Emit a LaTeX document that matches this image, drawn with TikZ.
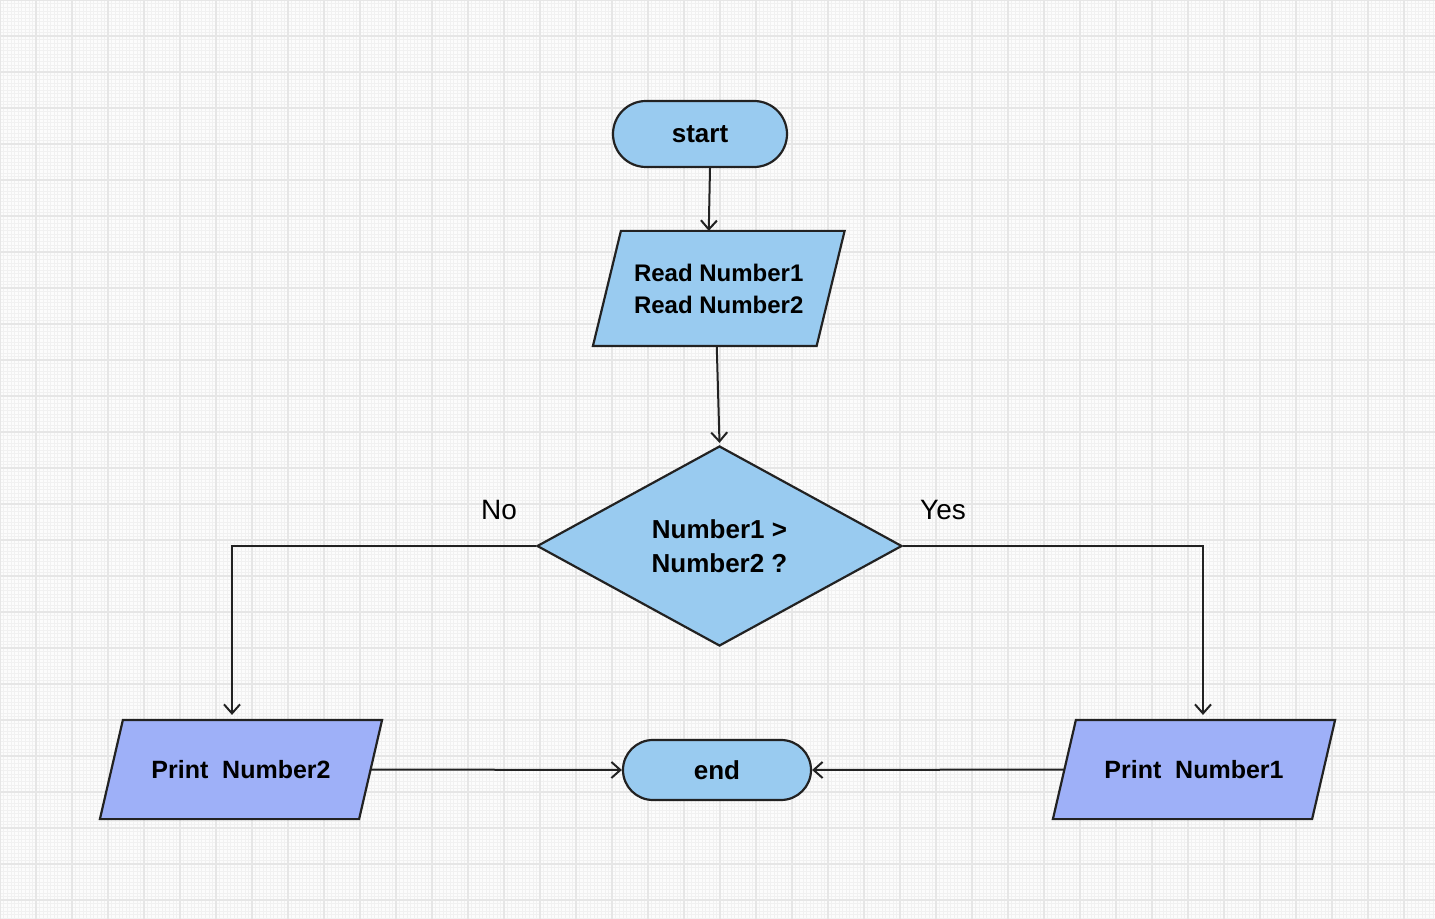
\documentclass[tikz,border=0pt]{standalone}
\usepackage{fontspec}
\setmainfont{Liberation Sans}
\usetikzlibrary{shapes.geometric,shapes.misc,arrows.meta,calc,backgrounds}
\definecolor{bgc}{HTML}{FCFCFC}
\definecolor{minorc}{HTML}{F1F1F1}
\definecolor{majorc}{HTML}{E6E6E6}
\definecolor{blueA}{HTML}{99CBF0}
\definecolor{blueB}{HTML}{9EB0F8}
\definecolor{ink}{HTML}{222222}
\tikzset{
  base/.style={draw=ink, line width=1.1pt, font=\bfseries\fontsize{12}{16}\selectfont, text=black, inner sep=0pt, align=center},
  term/.style={base, rounded rectangle, fill=blueA, font=\bfseries\fontsize{13}{16}\selectfont},
  iobox/.style={base, draw=none, rectangle},
  ioshape/.style={draw=ink, line width=1.1pt, line join=miter},
  decision/.style={base, diamond, fill=blueA, font=\bfseries\fontsize{13}{16}\selectfont},
  lbl/.style={font=\fontsize{14}{17}\selectfont, text=black, inner sep=0pt},
  arr/.style={draw=ink, line width=1pt, -{Straight Barb[length=4.5pt,width=8pt,line width=1pt]}},
  minorline/.style={draw=minorc, line width=0.2pt},
  majorline/.style={draw=majorc, line width=0.8pt}
}
\newcommand\drawpar[3]{%
  \draw[ioshape, fill=#2] ($(#1.north west)+(#3,0)$) -- ($(#1.north east)+(#3,0)$)
    -- ($(#1.south east)+(-#3,0)$) -- ($(#1.south west)+(-#3,0)$) -- cycle;}
\begin{document}
\begin{tikzpicture}[x=0.5pt,y=-0.5pt]
\useasboundingbox (0,0) rectangle (1435,919);
\begin{scope}[on background layer]
\fill[bgc] (0,0) rectangle (1435,919);
\foreach \x in {3.6,7.2,...,1435} \draw[minorline] (\x,0) -- (\x,919);
\foreach \y in {3.6,7.2,...,919} \draw[minorline] (0,\y) -- (1435,\y);
\foreach \i in {0,...,39} \draw[majorline] (36*\i,0) -- (36*\i,919);
\foreach \i in {0,...,25} \draw[majorline] (0,36*\i) -- (1435,36*\i);
\end{scope}

\node[term, minimum width=87pt, minimum height=33pt] (start) at (700,134) {start};
\node[iobox, minimum width=110.75pt, minimum height=56.5pt] (read) at (718.75,288.5) {Read Number1\\Read Number2};
\node[decision, minimum width=182.5pt, minimum height=100pt] (dec) at (719.5,546) {Number1 >\\[1pt]Number2 ?};
\node[iobox, minimum width=128.5pt, minimum height=48.5pt, font=\bfseries\fontsize{12.5}{16}\selectfont] (p2) at (241,769.5) {Print\ \ Number2};
\node[term, minimum width=94pt, minimum height=30pt] (end) at (717,770) {end};
\node[iobox, minimum width=128.5pt, minimum height=48.5pt, font=\bfseries\fontsize{12.5}{16}\selectfont] (p1) at (1194,769.5) {Print\ \ Number1};

\begin{scope}[on background layer]
\drawpar{read}{blueA}{14}
\drawpar{p2}{blueB}{11.5}
\drawpar{p1}{blueB}{11.5}
\end{scope}

\node[lbl] (no) at (499,510) {No};
\node[lbl] (yes) at (943,510) {Yes};

\draw[arr] ([xshift=5pt]start.south) -- ([xshift=-5pt]read.north);
\draw[arr] ([xshift=-1pt]read.south) -- ([yshift=1pt]dec.north);
\draw[arr] (dec.west) -| ([xshift=-4.5pt,yshift=2.5pt]p2.north);
\draw[arr] (dec.east) -| ([xshift=4.5pt,yshift=2.5pt]p1.north);
\draw[arr] (p2.east) -- (end.west);
\draw[arr] (p1.west) -- (end.east);
\end{tikzpicture}
\end{document}
